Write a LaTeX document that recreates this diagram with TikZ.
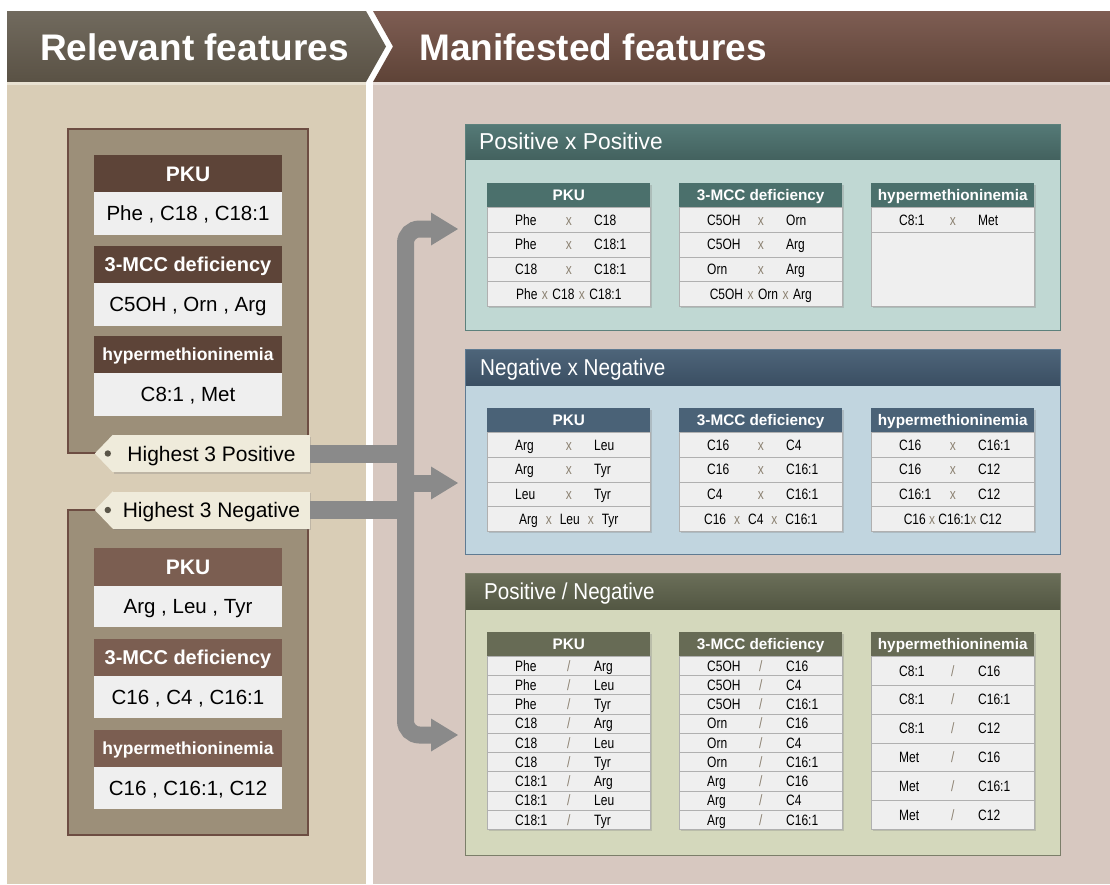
\documentclass[tikz,border=0pt]{standalone}
\usepackage{fontspec}
\setmainfont{Liberation Sans}
\newfontfamily\narrowfont{Liberation Sans}[FakeStretch=0.8]
\usetikzlibrary{shadows}
\definecolor{hdrLa}{HTML}{716A5E}
\definecolor{hdrLb}{HTML}{5A5245}
\definecolor{hdrRa}{HTML}{7E5D53}
\definecolor{hdrRb}{HTML}{5E4337}
\definecolor{bodyL}{HTML}{D9CDB6}
\definecolor{bodyR}{HTML}{D7C8C0}
\definecolor{lineL}{HTML}{E9E2D2}
\definecolor{lineR}{HTML}{E7DDD8}
\definecolor{outerbox}{HTML}{9C8F79}
\definecolor{outerline}{HTML}{6D4D42}
\definecolor{lhdA}{HTML}{5D4438}
\definecolor{lhdB}{HTML}{7B5E51}
\definecolor{valfill}{HTML}{EFEFEF}
\definecolor{tagfill}{HTML}{EFEBDB}
\definecolor{dotcol}{HTML}{5A5548}
\definecolor{arrowgray}{HTML}{8A8A8A}
\definecolor{ppHa}{HTML}{557A77}
\definecolor{ppHb}{HTML}{43625F}
\definecolor{ppBody}{HTML}{C0D8D3}
\definecolor{ppLine}{HTML}{5C817C}
\definecolor{ppTab}{HTML}{4B706C}
\definecolor{nnHa}{HTML}{4E657A}
\definecolor{nnHb}{HTML}{3B4F63}
\definecolor{nnBody}{HTML}{C1D5DF}
\definecolor{nnLine}{HTML}{5F7B92}
\definecolor{nnTab}{HTML}{4A6277}
\definecolor{pnHa}{HTML}{6B6F59}
\definecolor{pnHb}{HTML}{535743}
\definecolor{pnBody}{HTML}{D4D8BC}
\definecolor{pnLine}{HTML}{7B7E69}
\definecolor{pnTab}{HTML}{676B55}
\definecolor{rowline}{HTML}{B0B0B0}
\definecolor{sepcol}{HTML}{8C8272}
\newcommand\fsz[1]{\fontsize{#1}{#1}\selectfont}
\newcommand\sxx{\hspace{4.5pt}{\color{sepcol}x}\hspace{4.5pt}}
\newcommand\sxw{\hspace{8pt}{\color{sepcol}x}\hspace{8pt}}
\newcommand\sxn{ {\color{sepcol}x} }
% table header + shadow
\newcommand\tabl[6]{%
  \path[tshadow] (#2,{#3-24}) rectangle ({#2+163},{#3+#4});
  \node[thead, fill=#5, anchor=north west] (#1) at (#2,{#3-24}) {#6};
}
% rows of pairs
\newcommand\rows[6]{%
  \foreach \va/\vb [count=\k] in {#6} {
    \node[trow, minimum height=#4 pt, anchor=north west] (#1\k) at (#2,{#3+(\k-1)*#4}) {};
    \node[rtxt, anchor=west] (#1\k-l) at ([xshift=28pt]#1\k.west) {\va};
    \node[rsep] (#1\k-s) at (#1\k.center) {#5};
    \node[rtxt, anchor=west] (#1\k-r) at ([xshift=107pt]#1\k.west) {\vb};
  }%
}
% combined row
\newcommand\crow[5]{%
  \node[trow, minimum height=#4 pt, anchor=north west] (#1) at (#2,#3) {};
  \node[rtxt] (#1-t) at (#1.center) {#5};
}
% group box
\newcommand\gbox[8]{%
  \fill[#5Body] (465,#2) rectangle (1060,#3);
  \shade[top color=#5Ha, bottom color=#5Hb] (465,#2) rectangle (1060,#4);
  \draw[#5Line, line width=1pt] (465,#2) rectangle (1060,#3);
  \node[gtitle, anchor=west] (#1) at (#7,{(#2+#4)/2}) {\scalebox{#8}[1]{#6}};
}
\begin{document}
\begin{tikzpicture}[x=1pt,y=-1pt,
  outer/.style={fill=outerbox, draw=outerline, line width=1.5pt},
  lhead/.style={rectangle, minimum width=188pt, inner sep=0pt, text=white, text depth=0pt},
  lval/.style={rectangle, fill=valfill, minimum width=188pt, minimum height=42.5pt, inner sep=0pt,
     font=\fsz{20.5}, text height=14.7pt, text depth=0pt},
  tagbox/.style={rectangle, fill=tagfill, minimum width=197pt, minimum height=37pt, inner sep=0pt,
     font=\fsz{21}, text height=15pt, text depth=0pt,
     drop shadow={shadow xshift=1pt, shadow yshift=-1.5pt, opacity=0.3}},
  hbar/.style={draw=arrowgray, line width=18pt},
  trunk/.style={draw=arrowgray, line width=17pt, rounded corners=14pt},
  headtxt/.style={anchor=west, inner sep=0pt, text=white, font=\bfseries\fsz{37}, text height=26.5pt, text depth=0pt},
  gtitle/.style={inner sep=0pt, text=white, font=\fsz{23}, text height=16.5pt, text depth=0pt},
  tshadow/.style={fill=valfill, drop shadow={shadow xshift=1.5pt, shadow yshift=-2pt, opacity=0.3}},
  thead/.style={rectangle, minimum width=163pt, minimum height=24pt, inner sep=0pt, text=white,
     font=\bfseries\fsz{15.3}, text height=11pt, text depth=0pt},
  trow/.style={rectangle, fill=valfill, draw=rowline, line width=0.6pt, minimum width=163pt, inner sep=0pt},
  rtxt/.style={inner sep=0pt, font=\narrowfont\fsz{15}, text height=10.7pt, text depth=0pt},
  rsep/.style={rtxt, text=sepcol}
]
\useasboundingbox (0,0) rectangle (1110,884);
\fill[white] (0,0) rectangle (1110,884);
% ---- header bands
\shade[top color=hdrLa, bottom color=hdrLb] (7,11) -- (366,11) -- (386,46.5) -- (366,82) -- (7,82) -- cycle;
\shade[top color=hdrRa, bottom color=hdrRb] (373,11) -- (1110,11) -- (1110,82) -- (373,82) -- (393,46.5) -- cycle;
\fill[lineL] (7,82) rectangle (366,85);
\fill[lineR] (373,82) rectangle (1110,85);
\fill[bodyL] (7,85) rectangle (366,884);
\fill[bodyR] (373,85) rectangle (1110,884);
\node[headtxt] (hRel) at (40,47) {Relevant features};
\node[headtxt] (hMan) at (419,47) {Manifested features};
% ---- left outer boxes
\draw[outer] (68,129) rectangle (308,453);
\draw[outer] (68,510) rectangle (308,835);
% top panel
\node[lhead, fill=lhdA, minimum height=37pt, font=\bfseries\fsz{21}, text height=15pt] (pA) at (188,173.5) {PKU};
\node[lval] (pAv) at (188,213.5) {Phe , C18 , C18:1};
\node[lhead, fill=lhdA, minimum height=37pt, font=\bfseries\fsz{20}, text height=14.3pt] (pB) at (188,264.5) {3-MCC deficiency};
\node[lval] (pBv) at (188,304.5) {C5OH , Orn , Arg};
\node[lhead, fill=lhdA, minimum height=37pt, font=\bfseries\fsz{17.5}, text height=12.5pt] (pC) at (188,354.5) {hypermethioninemia};
\node[lval] (pCv) at (188,394.5) {C8:1 , Met};
% bottom panel
\node[lhead, fill=lhdB, minimum height=38pt, font=\bfseries\fsz{21}, text height=15pt] (nA) at (188,567) {PKU};
\node[lval, minimum height=41pt] (nAv) at (188,606.5) {Arg , Leu , Tyr};
\node[lhead, fill=lhdB, minimum height=37pt, font=\bfseries\fsz{20}, text height=14.3pt] (nB) at (188,657.5) {3-MCC deficiency};
\node[lval, minimum height=42pt] (nBv) at (188,697) {C16 , C4 , C16:1};
\node[lhead, fill=lhdB, minimum height=37pt, font=\bfseries\fsz{17.5}, text height=12.5pt] (nC) at (188,748.5) {hypermethioninemia};
\node[lval, minimum height=42pt] (nCv) at (188,788) {C16 , C16:1, C12};
% ---- group boxes
\gbox{ppT}{124}{330}{159}{pp}{Positive x Positive}{479}{0.99}
\gbox{nnT}{349}{554}{385}{nn}{Negative x Negative}{480}{0.9}
\gbox{pnT}{573}{855}{609}{pn}{Positive / Negative}{484}{0.895}
% ---- Positive x Positive tables
\tabl{ppA}{487}{207}{99}{ppTab}{PKU}
\rows{ppA}{487}{207}{24.75}{x}{Phe/C18, Phe/C18:1, C18/C18:1}
\crow{ppA4}{487}{281.25}{24.75}{Phe\sxx C18\sxx C18:1}
\tabl{ppB}{679}{207}{99}{ppTab}{3-MCC deficiency}
\rows{ppB}{679}{207}{24.75}{x}{C5OH/Orn, C5OH/Arg, Orn/Arg}
\crow{ppB4}{679}{281.25}{24.75}{C5OH\sxx Orn\sxx Arg}
\tabl{ppC}{871}{207}{99}{ppTab}{hypermethioninemia}
\rows{ppC}{871}{207}{24.75}{x}{C8:1/Met}
\node[trow, minimum height=74.25pt, anchor=north west] (ppCe) at (871,231.75) {};
% ---- Negative x Negative tables
\tabl{nnA}{487}{432}{99}{nnTab}{PKU}
\rows{nnA}{487}{432}{24.75}{x}{Arg/Leu, Arg/Tyr, Leu/Tyr}
\crow{nnA4}{487}{506.25}{24.75}{Arg\sxw Leu\sxw Tyr}
\tabl{nnB}{679}{432}{99}{nnTab}{3-MCC deficiency}
\rows{nnB}{679}{432}{24.75}{x}{C16/C4, C16/C16:1, C4/C16:1}
\crow{nnB4}{679}{506.25}{24.75}{C16\sxw C4\sxw C16:1}
\tabl{nnC}{871}{432}{99}{nnTab}{hypermethioninemia}
\rows{nnC}{871}{432}{24.75}{x}{C16/C16:1, C16/C12, C16:1/C12}
\crow{nnC4}{871}{506.25}{24.75}{C16\sxn C16:1{\color{sepcol}x} C12}
% ---- Positive / Negative tables
\tabl{pnA}{487}{656}{173}{pnTab}{PKU}
\rows{pnA}{487}{656}{19.22}{/}{Phe/Arg, Phe/Leu, Phe/Tyr, C18/Arg, C18/Leu, C18/Tyr, C18:1/Arg, C18:1/Leu, C18:1/Tyr}
\tabl{pnB}{679}{656}{173}{pnTab}{3-MCC deficiency}
\rows{pnB}{679}{656}{19.22}{/}{C5OH/C16, C5OH/C4, C5OH/C16:1, Orn/C16, Orn/C4, Orn/C16:1, Arg/C16, Arg/C4, Arg/C16:1}
\tabl{pnC}{871}{656}{173}{pnTab}{hypermethioninemia}
\rows{pnC}{871}{656}{28.83}{/}{C8:1/C16, C8:1/C16:1, C8:1/C12, Met/C16, Met/C16:1, Met/C12}
% ---- tags
\node[tagbox] (tagP) at (211.5,453.5) {Highest 3 Positive};
\fill[tagfill] (tagP.north west) -- ([xshift=-18pt]tagP.west) -- (tagP.south west) -- cycle;
\fill[dotcol] ([xshift=-5pt]tagP.west) circle (3.2pt);
\node[tagbox] (tagN) at (211.5,510) {Highest 3 Negative};
\fill[tagfill] (tagN.north west) -- ([xshift=-18pt]tagN.west) -- (tagN.south west) -- cycle;
\fill[dotcol] ([xshift=-5pt]tagN.west) circle (3.2pt);
% ---- gray connectors
\coordinate (tPP) at (458,229);
\coordinate (bPP) at (431,229);
\coordinate (tNN) at (458,483);
\coordinate (bNN) at (431,483);
\coordinate (tPN) at (458,735);
\coordinate (bPN) at (431,735);
\coordinate (trk) at (405.5,483);
\draw[hbar] (tagP.east) -- (tagP.east -| trk);
\draw[hbar] (tagN.east) -- (tagN.east -| trk);
\draw[trunk] ([xshift=1pt]bPP) -| (trk) |- ([xshift=1pt]bPN);
\draw[trunk] (trk) -- ([xshift=1pt]bNN);
\fill[arrowgray] ([yshift=16.5pt]bPP) -- (tPP) -- ([yshift=-16.5pt]bPP) -- cycle;
\fill[arrowgray] ([yshift=16.5pt]bNN) -- (tNN) -- ([yshift=-16.5pt]bNN) -- cycle;
\fill[arrowgray] ([yshift=16.5pt]bPN) -- (tPN) -- ([yshift=-16.5pt]bPN) -- cycle;
\end{tikzpicture}
\end{document}
